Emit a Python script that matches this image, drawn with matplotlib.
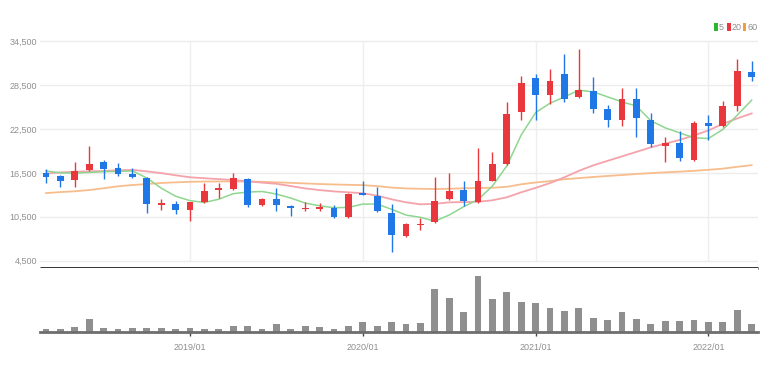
import matplotlib
matplotlib.use('Agg')
import matplotlib.pyplot as plt
from matplotlib.patches import Rectangle
import pandas as pd

months = [p.strftime('%Y/%m') for p in pd.period_range('2018-03', '2022-04', freq='M')]

opens = [16460, 16000, 15550, 16910, 17960, 17090, 16360, 15780, 12100, 12230,
         11370, 12460, 14090, 14280, 15640, 12150, 12960, 11960, 11510, 11510,
         11640, 10500, 13730, 13270, 11000, 7880, 9330, 9760, 12960, 14180,
         12460, 15450, 17690, 24820, 29380, 27100, 29970, 26870, 27730, 25150,
         23690, 26600, 23780, 20220, 20590, 18240, 23240, 22870, 25590, 30230]
highs = [17050, 16230, 18040, 20220, 18270, 17900, 17140, 15910, 12920, 12600,
         12500, 15100, 15100, 16540, 15860, 13050, 14410, 12140, 12460, 12370,
         12100, 13730, 15320, 14630, 12230, 9600, 10290, 15920, 16540, 15320,
         19870, 19280, 26190, 29690, 30060, 30740, 32700, 33380, 29600, 25730,
         28050, 28050, 24690, 21410, 22180, 23560, 24420, 26370, 32050, 31730]
lows = [15140, 14630, 14550, 16810, 15640, 16000, 15780, 11050, 11460, 10910,
        9860, 12370, 13050, 14180, 11870, 11910, 11320, 10640, 11320, 11230,
        10370, 10280, 13410, 11090, 5730, 7690, 8690, 9610, 12820, 11910,
        12400, 15320, 17600, 23690, 23690, 25880, 26190, 26690, 24690, 22690,
        22920, 21370, 20000, 17960, 18130, 18090, 20960, 22780, 24920, 28990]
closes = [15900, 15450, 16810, 17690, 17000, 16360, 15910, 12230, 12370, 11370,
          12460, 13950, 14410, 15780, 12130, 12920, 12140, 11730, 11730, 11780,
          10500, 13600, 13500, 11230, 8000, 9470, 9510, 12720, 13950, 12600,
          15320, 17690, 24510, 28780, 27100, 29050, 26560, 27780, 25150, 23780,
          26560, 24040, 20450, 20540, 18540, 23330, 22870, 25590, 30370, 29600]

ma5 = [16750, 16500, 16450, 16550, 16650, 16700, 16750, 15800, 14400, 13300,
       12700, 12450, 12900, 13650, 13870, 13950, 13600, 13050, 12370, 12000,
       11730, 11780, 12230, 12230, 11510, 10730, 10420, 9900, 10740, 11870,
       12850, 14700, 17450, 21680, 24730, 26010, 26870, 27780, 27560, 26870,
       26190, 25610, 23600, 22640, 21960, 21270, 21190, 22420, 24380, 26420]
ma20 = [16400, 16550, 16650, 16700, 16750, 16850, 16900, 16700, 16460, 16160,
        15890, 15760, 15640, 15520, 15340, 15160, 15000, 14690, 14370, 14140,
        13960, 13840, 13710, 13380, 12880, 12470, 12200, 12260, 12470, 12500,
        12540, 12750, 13160, 13840, 14450, 15100, 15890, 16770, 17520, 18140,
        18750, 19360, 19980, 20480, 21000, 21610, 22290, 23180, 23930, 24610]
ma60 = [13730, 13870, 13980, 14150, 14390, 14660, 14830, 14970, 15110, 15200,
        15270, 15310, 15320, 15320, 15310, 15270, 15200, 15130, 15050, 14970,
        14910, 14860, 14820, 14680, 14480, 14370, 14320, 14290, 14320, 14390,
        14430, 14460, 14590, 14930, 15180, 15370, 15620, 15780, 15930, 16070,
        16200, 16340, 16460, 16570, 16660, 16770, 16910, 17070, 17320, 17550]
volume = [27, 27, 43, 123, 40, 27, 40, 40, 40, 30,
          40, 27, 27, 57, 57, 23, 80, 27, 57, 43,
          27, 60, 97, 57, 97, 73, 90, 427, 333, 193,
          557, 323, 400, 293, 283, 233, 210, 240, 140, 113,
          193, 127, 73, 107, 107, 113, 97, 97, 213, 80]

price_ticks = [4500, 10500, 16500, 22500, 28500, 34500]
ma_labels = ['5', '20', '60']

W, H = 774, 373
fig = plt.figure(figsize=(W / 100, H / 100), dpi=100)
fig.patch.set_facecolor('white')

def fx(px):
    return px / W

def fy(py):
    return 1 - py / H

FONT = ['Liberation Sans', 'DejaVu Sans']
RED = '#e8383d'
BLUE = '#1f78e6'
TXT = '#8f8f8f'

left, right = 40, 758
ax = fig.add_axes([fx(left), fy(268), fx(right - left), (268 - 35) / H])
axv = fig.add_axes([fx(left), fy(331.7), fx(right - left), (331.7 - 268) / H])

n = len(months)
xs = list(range(n))
xlim = (-0.42, 49.44)

# price panel
for t in price_ticks:
    ax.axhline(t, color='#ececec', lw=1, zorder=0)
for i, m in enumerate(months):
    if m.endswith('/01'):
        ax.axvline(i, ymin=0.035, ymax=0.97, color='#eeeeee', lw=1, zorder=0)

ax.plot(xs, ma60, color='#f7bd8c', lw=1.3, zorder=2)
ax.plot(xs, ma20, color='#f5a3ab', lw=1.3, zorder=2)
ax.plot(xs, ma5, color='#8fd68f', lw=1.1, zorder=2)

for i in xs:
    o, h, l, c = opens[i], highs[i], lows[i], closes[i]
    col = RED if c >= o else BLUE
    ax.vlines(i, l, h, color=col, lw=1, zorder=3)
    body = max(abs(c - o), 200)
    bottom = min(o, c) if abs(c - o) >= 200 else (o + c) / 2 - 100
    ax.bar(i, body, bottom=bottom, width=0.47, color=col, zorder=4, linewidth=0)

ax.set_xlim(*xlim)
ax.set_ylim(3503, 35319)
ax.set_yticks(price_ticks)
ax.set_yticklabels([f'{t:,}' for t in price_ticks], fontsize=6.5, color=TXT, family=FONT)
ax.tick_params(axis='y', length=0, pad=2)
ax.set_xticks([])
for s in ['top', 'right', 'left']:
    ax.spines[s].set_visible(False)
ax.spines['bottom'].set_color('#222222')
ax.spines['bottom'].set_linewidth(2)
ax.spines['bottom'].set_capstyle('butt')

# volume panel
axv.bar(xs, volume, width=0.47, color='#8f8f8f', linewidth=0, zorder=2)
axv.set_xlim(*xlim)
axv.set_ylim(0, max(volume) * 63.7 / 55.7)
for s in ['top', 'right', 'left']:
    axv.spines[s].set_visible(False)
axv.spines['bottom'].set_color('#6e6e6e')
axv.spines['bottom'].set_linewidth(2)
axv.set_yticks([])
tick_pos = [i for i, m in enumerate(months) if m.endswith('/01')]
axv.set_xticks(tick_pos)
axv.set_xticklabels([months[i] for i in tick_pos], fontsize=6.5, color=TXT, family=FONT)
axv.tick_params(axis='x', length=3, width=1, color='#444444', pad=5)

# legend
leg_cols = ['#2db52d', RED, '#f39c38']
lx = [714, 727, 742.7]
for col, lab, x0 in zip(leg_cols, ma_labels, lx):
    fig.patches.append(Rectangle((fx(x0), fy(30.5)), 3.6 / W, 7 / H, transform=fig.transFigure,
                                 facecolor=col, edgecolor='none'))
    fig.text(fx(x0 + 4.6), fy(27), lab, fontsize=6.5, color=TXT, family=FONT, va='center', ha='left')

fig.savefig('out.png', dpi=100, facecolor='white')
